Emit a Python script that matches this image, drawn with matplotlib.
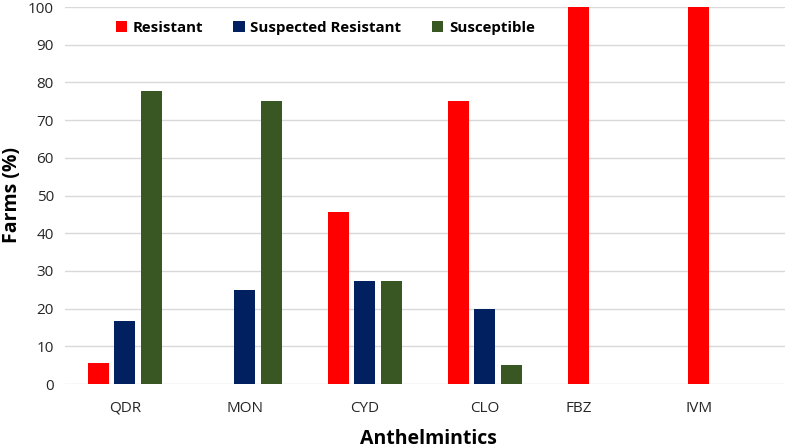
import numpy as np
import matplotlib.pyplot as plt

# Farms (%) by anthelmintic and resistance status
drugs = ['QDR', 'MON', 'CYD', 'CLO', 'FBZ', 'IVM']
resistant = [5.6, 0, 45.5, 75, 100, 100]
suspected = [16.7, 25, 27.3, 20, 0, 0]
susceptible = [77.8, 75, 27.3, 5, 0, 0]

plt.rcParams['font.family'] = ['Open Sans', 'DejaVu Sans']

fig = plt.figure(figsize=(7.87, 4.48), dpi=100)
ax = fig.add_axes([65/787, 1 - 384/448, 720/787, 377/448])

x = np.arange(len(drugs))
w = 0.175
off = 0.22
ax.bar(x - off, resistant, w, color='#FF0000', label='Resistant', zorder=3)
ax.bar(x, suspected, w, color='#002060', label='Suspected Resistant', zorder=3)
ax.bar(x + off, susceptible, w, color='#385723', label='Susceptible', zorder=3)

ax.set_xlim(-0.5, len(drugs) - 0.5)
ax.set_ylim(0, 100)
ax.set_yticks(np.arange(0, 101, 10))
ax.yaxis.grid(True, color='#D9D9D9', linewidth=1, zorder=0)
ax.set_axisbelow(True)
for s in ax.spines.values():
    s.set_visible(False)

# the FBZ and IVM labels sit under the red bars in the original
label_pos = x.astype(float)
label_pos[4] -= off
label_pos[5] -= off
ax.set_xticks(label_pos)
ax.set_xticklabels(drugs)
ax.tick_params(axis='both', length=0, labelsize=11, colors='#262626')
ax.tick_params(axis='x', pad=12)
ax.tick_params(axis='y', pad=8)

fig.text(12/787, 1 - 195/448, 'Farms (%)', fontsize=14, fontweight='bold',
         rotation=90, ha='center', va='center')
fig.text(428/787, 1 - 439/448, 'Anthelmintics', fontsize=14, fontweight='bold',
         ha='center', va='center')

leg = ax.legend(loc='center left', bbox_to_anchor=(37/720, 1 - 21/377), ncol=3, frameon=False,
                handlelength=0.75, handleheight=0.75, handletextpad=0.4, columnspacing=2.0,
                prop={'weight': 'bold', 'size': 10.8})

plt.savefig('out.png', dpi=100)
